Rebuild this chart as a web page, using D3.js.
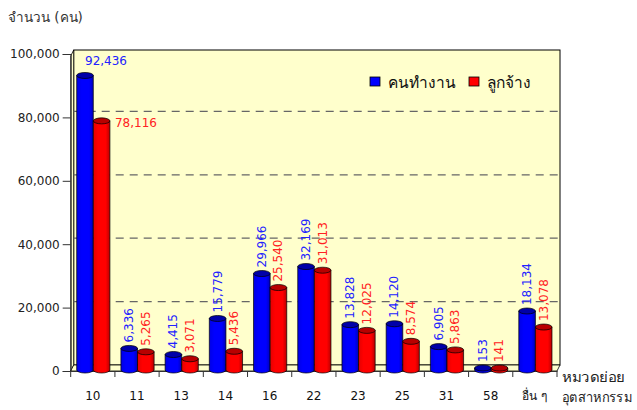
<!DOCTYPE html>
<html>
<head>
<meta charset="utf-8">
<script src="https://cdn.jsdelivr.net/npm/d3@7"></script>
<style>
    body { margin: 0; background: #fff; }
    svg { display: block; font-family: "DejaVu Sans", "Noto Sans", sans-serif; }
</style>
</head>
<body>
<div id="chart"></div>
<script>
// ข้อมูล
const categories = ['10', '11', '13', '14', '16', '22', '23', '25', '31', '58', 'อื่น ๆ'];
const workers = [92436, 6336, 4415, 15779, 29966, 32169, 13828, 14120, 6905, 153, 18134];
const employees = [78116, 5265, 3071, 5436, 25540, 31013, 12025, 8574, 5863, 141, 13078];
const seriesNames = ['คนทำงาน', 'ลูกจ้าง'];
const yTicks = [0, 20000, 40000, 60000, 80000, 100000];

(function() {
    const width = 637, height = 410;
    const left = 70.7, right = 557, bottom = 371, top = 54;
    const depthX = 3, depthY = -6;   // ความลึกแบบ 3 มิติ
    const wallColor = '#FFFFCC';

    const svg = d3.select('#chart').append('svg')
        .attr('width', width)
        .attr('height', height);

    const x = d3.scaleBand().domain(categories).range([left, right]).padding(0);
    const inner = d3.scaleBand().domain([0, 1]).range([6, x.bandwidth() - 5]).padding(0);
    const y = d3.scaleLinear().domain([0, 100000]).range([bottom, top]);

    const colors = ['#0000FF', '#FF0000'];
    const topColors = ['#0000A8', '#B80000'];
    const labelColors = ['#2222FF', '#FF2222'];

    // gradient ให้ดูเป็นทรงกระบอก
    const defs = svg.append('defs');
    colors.forEach((c, i) => {
        const g = defs.append('linearGradient').attr('id', 'grad' + i)
            .attr('x1', 0).attr('x2', 1).attr('y1', 0).attr('y2', 0);
        g.append('stop').attr('offset', '0%').attr('stop-color', d3.color(c).darker(0.3));
        g.append('stop').attr('offset', '30%').attr('stop-color', c);
        g.append('stop').attr('offset', '75%').attr('stop-color', c);
        g.append('stop').attr('offset', '100%').attr('stop-color', d3.color(c).darker(0.9));
    });

    // ผนังด้านหลัง
    const wallTop = y(100000) + depthY + 2;
    svg.append('rect')
        .attr('x', left + depthX).attr('y', wallTop)
        .attr('width', right - left).attr('height', bottom + depthY - wallTop)
        .attr('fill', wallColor).attr('stroke', '#000').attr('stroke-width', 1);

    // ผนังด้านซ้าย
    svg.append('path')
        .attr('d', `M${left},${bottom} L${left + depthX},${bottom + depthY} L${left + depthX},${wallTop} L${left},${wallTop - depthY} Z`)
        .attr('fill', wallColor).attr('stroke', '#000').attr('stroke-width', 0.8);

    // พื้น
    svg.append('path')
        .attr('d', `M${left},${bottom} L${left + depthX},${bottom + depthY} L${right + depthX},${bottom + depthY} L${right},${bottom} Z`)
        .attr('fill', wallColor).attr('stroke', '#000').attr('stroke-width', 0.8);

    // เส้นกริด
    svg.append('g')
        .selectAll('line')
        .data(yTicks.filter(t => t > 0 && t < 100000))
        .enter().append('line')
        .attr('x1', left + depthX).attr('x2', right + depthX)
        .attr('y1', d => y(d) + depthY).attr('y2', d => y(d) + depthY)
        .attr('stroke', '#666').attr('stroke-width', 1.2)
        .attr('stroke-dasharray', '8,6');

    // แกน Y
    const yAxis = svg.append('g')
        .attr('transform', `translate(${left},0)`)
        .call(d3.axisLeft(y).tickValues(yTicks).tickFormat(d3.format(',')).tickSize(8).tickPadding(3));
    yAxis.select('.domain').attr('stroke', '#333');
    yAxis.selectAll('.tick line').attr('stroke', '#333');
    yAxis.selectAll('text').attr('font-size', 12).attr('fill', '#222')
        .attr('font-family', '"DejaVu Sans", sans-serif');

    // แกน X
    const xAxis = svg.append('g')
        .attr('transform', `translate(0,${bottom})`)
        .call(d3.axisBottom(x).tickSize(0).tickPadding(20));
    xAxis.select('.domain').attr('stroke', '#333');
    xAxis.selectAll('text').attr('font-size', 12).attr('fill', '#111')
        .attr('font-family', '"DejaVu Sans", sans-serif');
    svg.append('g')
        .selectAll('line')
        .data(categories.concat(['end']))
        .enter().append('line')
        .attr('x1', (d, i) => left + i * x.bandwidth())
        .attr('x2', (d, i) => left + i * x.bandwidth())
        .attr('y1', bottom).attr('y2', bottom + 6)
        .attr('stroke', '#333');

    // แท่งทรงกระบอก
    const rows = [];
    categories.forEach((c, i) => {
        [workers[i], employees[i]].forEach((v, s) => rows.push({ cat: c, s: s, v: v }));
    });

    const ry = 3;
    const bars = svg.append('g')
        .selectAll('g')
        .data(rows)
        .enter().append('g')
        .attr('transform', d => `translate(${x(d.cat) + inner(d.s)},0)`);

    const bw = inner.bandwidth();
    const base = bottom - 1;
    bars.append('path')
        .attr('d', d => {
            const t = y(d.v) - 2.5;
            return `M0,${t} L0,${base} A${bw / 2},${ry} 0 0 0 ${bw},${base} L${bw},${t} Z`;
        })
        .attr('fill', d => `url(#grad${d.s})`)
        .attr('stroke', '#000').attr('stroke-width', 0.7);

    bars.append('ellipse')
        .attr('cx', bw / 2).attr('cy', d => y(d.v) - 2.5)
        .attr('rx', bw / 2).attr('ry', ry)
        .attr('fill', d => topColors[d.s])
        .attr('stroke', '#000').attr('stroke-width', 0.7);

    // ป้ายค่า
    const fmt = d3.format(',');
    bars.append('text')
        .attr('font-size', 12)
        .attr('font-family', '"DejaVu Sans", sans-serif')
        .attr('fill', d => labelColors[d.s])
        .attr('transform', d => {
            const t = y(d.v) - 2.5 - ry;
            if (d.v > 60000) {
                return d.s === 0 ? `translate(${bw / 2},${t - 7})` : `translate(${bw + 5},${t + 9})`;
            }
            return `translate(${bw / 2 + 4},${t - 3}) rotate(-90)`;
        })
        .text(d => fmt(d.v));

    // ชื่อแกน
    svg.append('text')
        .attr('x', 8).attr('y', 22)
        .attr('font-size', 13.5).attr('fill', '#333')
        .text('จำนวน (คน)');
    svg.append('text')
        .attr('x', 562).attr('y', 382)
        .attr('font-size', 14).attr('fill', '#222')
        .attr('textLength', 63).attr('lengthAdjust', 'spacingAndGlyphs')
        .text('หมวดย่อย');
    svg.append('text')
        .attr('x', 562).attr('y', 402)
        .attr('font-size', 14).attr('fill', '#222')
        .attr('textLength', 70).attr('lengthAdjust', 'spacingAndGlyphs')
        .text('อุตสาหกรรม');

    // คำอธิบาย
    const legend = svg.append('g')
        .selectAll('g')
        .data(seriesNames)
        .enter().append('g')
        .attr('transform', (d, i) => `translate(${370 + i * 99},77)`);
    legend.append('rect')
        .attr('width', 10).attr('height', 9)
        .attr('fill', (d, i) => colors[i])
        .attr('stroke', '#000').attr('stroke-width', 0.8);
    legend.append('text')
        .attr('x', 18).attr('y', 11)
        .attr('font-size', 15.5).attr('fill', '#111')
        .text(d => d);
})();
</script>
</body>
</html>
